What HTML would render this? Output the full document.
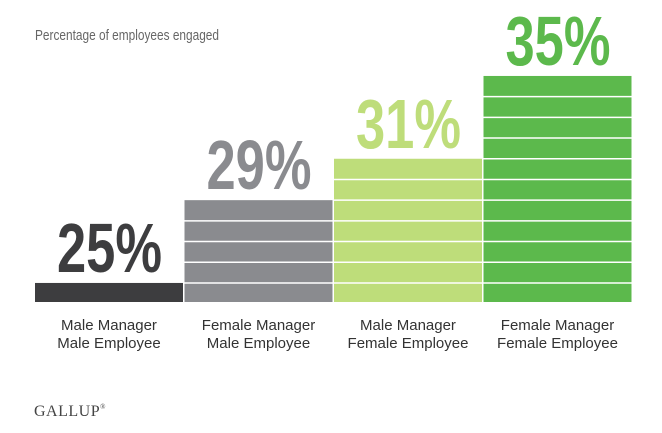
<!DOCTYPE html>
<html><head><meta charset="utf-8"><style>
body{margin:0;background:#fff;}
svg{display:block;}
</style></head><body>
<svg id="chart" width="662" height="433" viewBox="0 0 662 433" xmlns="http://www.w3.org/2000/svg">
<text x="35" y="40" font-family="Liberation Sans Narrow, Liberation Sans, sans-serif" font-size="15" fill="#666" textLength="184" lengthAdjust="spacingAndGlyphs">Percentage of employees engaged</text>
<g id="bars"></g>
<text x="34" y="416" font-family="Liberation Serif, serif" font-size="16" fill="#444" letter-spacing="0.5">GALLUP<tspan font-size="7" dy="-7">®</tspan></text>
</svg>
<script>
const categoriesLine1 = ["Male Manager","Female Manager","Male Manager","Female Manager"];
const categoriesLine2 = ["Male Employee","Male Employee","Female Employee","Female Employee"];
const values = [25, 29, 31, 35];
const valueLabels = ["25%","29%","31%","35%"];
const colors = ["#3d3d3f","#8a8b8f","#bedd7a","#5cb94c"];

const NS = "http://www.w3.org/2000/svg";
const g = document.getElementById("bars");
const baseVal = 24.08, baseY = 302, pxPerUnit = 20.7;
function yScale(v){ return baseY - (v - baseVal) * pxPerUnit; }
const x0 = 35, bw = 148, gap = 1.5;
function xScale(i){ return x0 + i * (bw + gap); }
function mk(tag, attrs){ const e = document.createElementNS(NS, tag); for (const k in attrs) e.setAttribute(k, attrs[k]); return e; }

values.forEach((v, i) => {
  const x = xScale(i), top = yScale(v);
  const r = mk("rect", {x: x, y: top, width: bw, height: baseY - top, fill: colors[i]});
  
  
  g.appendChild(r);
  for (let u = Math.ceil(baseVal); u < v; u++) {
    const ly = yScale(u);
    const l = mk("line", {x1: x, x2: x + bw, y1: ly, y2: ly, stroke: "#fff", "stroke-width": 1.5});
    
    
    g.appendChild(l);
  }
  const t = mk("text", {x: x + bw / 2 - 52, y: top - 11, "font-family": "Liberation Sans Narrow, Liberation Sans, sans-serif", "font-weight": "bold", "font-size": 70, fill: colors[i], textLength: 105, lengthAdjust: "spacingAndGlyphs"});
  t.textContent = valueLabels[i];
  
  
  g.appendChild(t);
  [categoriesLine1[i], categoriesLine2[i]].forEach((s, j) => {
    const c = mk("text", {x: x + bw / 2, y: 330 + j * 18, "text-anchor": "middle", "font-family": "Liberation Sans Narrow, Liberation Sans, sans-serif", "font-size": 15, fill: "#333"});
    c.textContent = s;
    
    
    g.appendChild(c);
  });
});
</script>
</body></html>
